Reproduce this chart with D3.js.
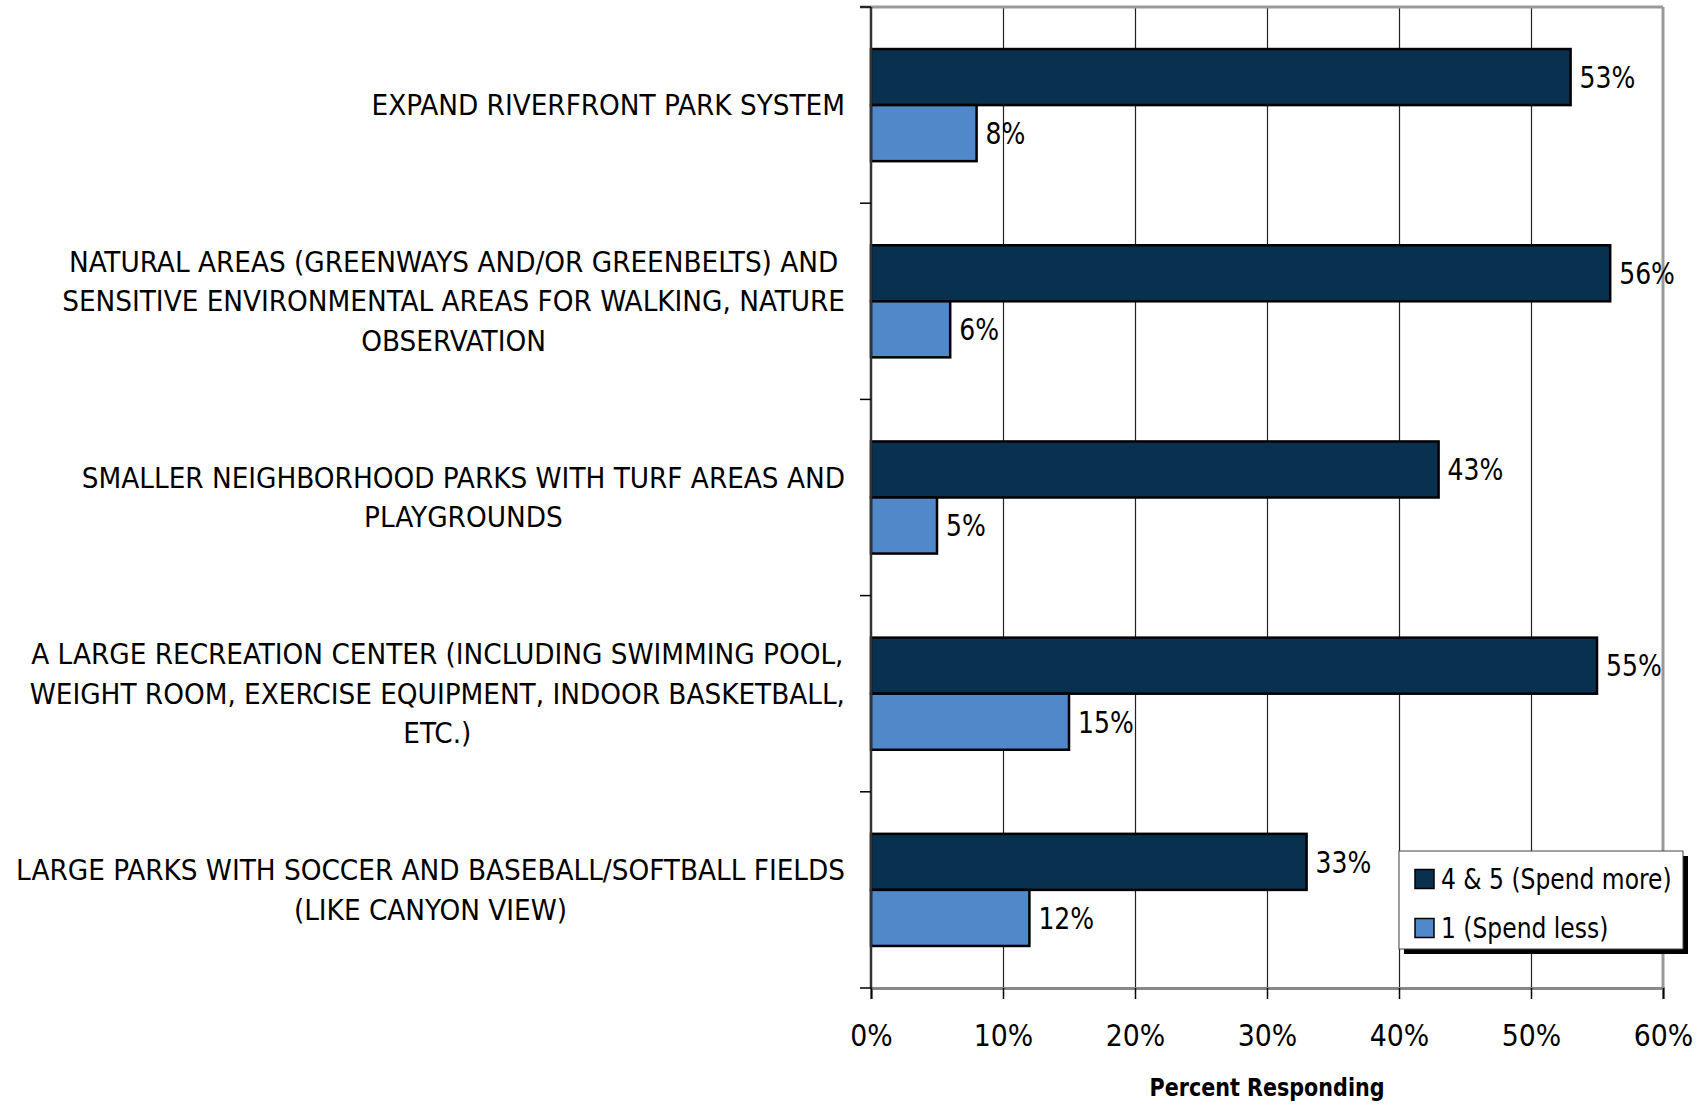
<!DOCTYPE html>
<html>
<head>
<meta charset="utf-8">
<script src="https://cdn.jsdelivr.net/npm/d3@7/dist/d3.min.js"></script>
<style>
  html, body { margin: 0; padding: 0; background: #fff; }
  svg { display: block; }
  text { font-family: "DejaVu Sans Condensed", "DejaVu Sans", sans-serif; font-stretch: condensed; fill: #000; }
</style>
</head>
<body>
<script>
// Survey items (line breaks follow the printed labels)
const categories = [
  "EXPAND RIVERFRONT PARK SYSTEM",
  "NATURAL AREAS (GREENWAYS AND/OR GREENBELTS) AND\nSENSITIVE ENVIRONMENTAL AREAS FOR WALKING, NATURE\nOBSERVATION",
  "SMALLER NEIGHBORHOOD PARKS WITH TURF AREAS AND\nPLAYGROUNDS",
  "A LARGE RECREATION CENTER (INCLUDING SWIMMING POOL,\nWEIGHT ROOM, EXERCISE EQUIPMENT, INDOOR BASKETBALL,\nETC.)",
  "LARGE PARKS WITH SOCCER AND BASEBALL/SOFTBALL FIELDS\n(LIKE CANYON VIEW)"
];
const seriesNames = ["4 & 5 (Spend more)", "1 (Spend less)"];
const spendMore = [53, 56, 43, 55, 33];
const spendLess = [8, 6, 5, 15, 12];
const xTicks = [0, 10, 20, 30, 40, 50, 60];
const axisTitle = "Percent Responding";

const W = 1705, H = 1105;
const plot = { left: 871, right: 1663, top: 7, bottom: 988 };
const colors = ["#08304F", "#5088C9"];

const svg = d3.select("body").append("svg").attr("width", W).attr("height", H);

// widen or narrow a text run horizontally by factor k
function stretch(sel, k) {
  sel.each(function () {
    const len = this.getComputedTextLength();
    d3.select(this).attr("textLength", len * k).attr("lengthAdjust", "spacingAndGlyphs");
  });
}

const x = d3.scaleLinear().domain([0, 60]).range([plot.left, plot.right]);
const y = d3.scaleBand().domain(d3.range(categories.length)).range([plot.top, plot.bottom]).padding(0);
const ySub = d3.scaleBand().domain([0, 1]).range([0, y.bandwidth()]).paddingInner(0).paddingOuter(0.75);

// vertical gridlines
svg.append("g").selectAll("line").data(xTicks.filter(t => t > 0 && t < 60)).join("line")
  .attr("x1", d => Math.round(x(d)) + 0.5).attr("x2", d => Math.round(x(d)) + 0.5)
  .attr("y1", plot.top).attr("y2", plot.bottom)
  .attr("stroke", "#222").attr("stroke-width", 1.2);

// plot frame (top and right)
svg.append("line").attr("x1", plot.left - 11).attr("x2", plot.right).attr("y1", plot.top).attr("y2", plot.top)
  .attr("stroke", "#999").attr("stroke-width", 3);
svg.append("line").attr("x1", plot.right).attr("x2", plot.right).attr("y1", plot.top).attr("y2", plot.bottom)
  .attr("stroke", "#999").attr("stroke-width", 3);

// bars
const values = [spendMore, spendLess];
const rows = [];
categories.forEach((c, i) => values.forEach((vals, s) => rows.push({ i, s, v: vals[i] })));

svg.append("g").selectAll("rect").data(rows).join("rect")
  .attr("x", x(0))
  .attr("y", d => y(d.i) + ySub(d.s))
  .attr("width", d => x(d.v) - x(0))
  .attr("height", ySub.bandwidth())
  .attr("fill", d => colors[d.s])
  .attr("stroke", "#000").attr("stroke-width", 2.5);

// value labels
svg.append("g").selectAll("text").data(rows).join("text")
  .attr("x", d => x(d.v) + 9)
  .attr("y", d => y(d.i) + ySub(d.s) + ySub.bandwidth() / 2)
  .attr("dy", "0.36em")
  .attr("font-size", 30)
  .text(d => d.v + "%")
  .call(stretch, 0.93);

// bottom axis
const xAxis = svg.append("g").attr("transform", `translate(0,${plot.bottom})`)
  .call(d3.axisBottom(x).tickValues(xTicks).tickSize(11).tickFormat(d => d + "%"));
xAxis.select(".domain").attr("stroke", "#888").attr("stroke-width", 3);
xAxis.selectAll(".tick line").attr("stroke", "#000").attr("stroke-width", 1.5);
xAxis.selectAll(".tick text").attr("font-size", 31).attr("font-family", null).attr("y", 36).attr("dy", "0.71em")
  .call(stretch, 0.96);

// left axis with ticks on category boundaries
const bounds = d3.range(categories.length + 1).map(i => plot.top + i * y.step());
svg.append("line").attr("x1", plot.left).attr("x2", plot.left).attr("y1", plot.top).attr("y2", plot.bottom)
  .attr("stroke", "#333").attr("stroke-width", 2.5);
svg.append("g").selectAll("line").data(bounds).join("line")
  .attr("x1", plot.left - 11).attr("x2", plot.left).attr("y1", d => d).attr("y2", d => d)
  .attr("stroke", "#000").attr("stroke-width", 1.5);

// category labels: each block sits flush against the axis, its lines centred within it
const lineH = 39.5;
const labelRight = 845;
const labelG = svg.append("g");
categories.forEach((c, i) => {
  const lines = c.split("\n");
  const cy = y(i) + y.bandwidth() / 2;
  const t = labelG.selectAll(null).data(lines).join("text")
    .attr("text-anchor", "middle")
    .attr("font-size", 27.5)
    .attr("y", (l, k) => cy + (k - (lines.length - 1) / 2) * lineH)
    .attr("dy", "0.36em")
    .text(l => l)
    .call(stretch, 1.065);
  const widest = d3.max(t.nodes(), n => +n.getAttribute("textLength"));
  t.attr("x", labelRight - widest / 2);
});

// axis title
svg.append("text").attr("x", (plot.left + plot.right) / 2).attr("y", 1087).attr("dy", "0.36em")
  .attr("text-anchor", "middle").attr("font-size", 25).attr("font-weight", "bold").text(axisTitle)
  .call(stretch, 0.92);

// legend
const lg = { x: 1399, y: 851, w: 284, h: 98 };
svg.append("rect").attr("x", lg.x + 5).attr("y", lg.y + 5).attr("width", lg.w).attr("height", lg.h).attr("fill", "#000");
svg.append("rect").attr("x", lg.x).attr("y", lg.y).attr("width", lg.w).attr("height", lg.h)
  .attr("fill", "#fff").attr("stroke", "#444").attr("stroke-width", 1);
const items = svg.append("g").selectAll("g").data(seriesNames).join("g")
  .attr("transform", (d, k) => `translate(${lg.x + 16},${lg.y + 28 + k * 49})`);
items.append("rect").attr("x", 0).attr("y", -9.5).attr("width", 19).attr("height", 19)
  .attr("fill", (d, k) => colors[k]).attr("stroke", "#000").attr("stroke-width", 1.5);
items.append("text").attr("x", 26).attr("dy", "0.36em").attr("font-size", 28).text(d => d)
  .call(stretch, 0.93);
</script>
</body>
</html>
